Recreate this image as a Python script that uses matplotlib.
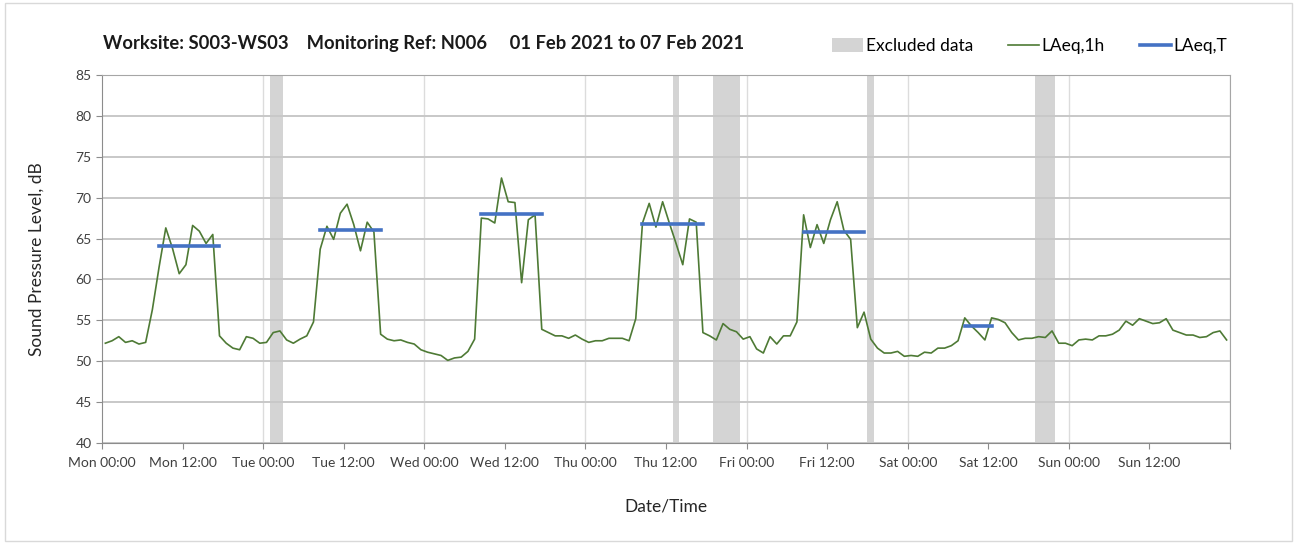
import matplotlib
matplotlib.use("Agg")
import matplotlib.pyplot as plt
from matplotlib.patches import Patch, Rectangle
from matplotlib.lines import Line2D
import numpy as np

plt.rcParams['font.family'] = ['Lato', 'DejaVu Sans']

# hourly LAeq,1h values, Mon 00:00 .. Sun 23:00 (plotted at mid-hour)
laeq_1h = [
    52.2, 52.5, 53.0, 52.3, 52.5, 52.1, 52.3, 56.3, 61.5, 66.3, 63.8, 60.7,
    61.8, 66.6, 65.9, 64.4, 65.5, 53.1, 52.2, 51.6, 51.4, 53.0, 52.8, 52.2,
    52.3, 53.5, 53.7, 52.6, 52.2, 52.7, 53.1, 54.8, 63.7, 66.5, 64.9, 68.1,
    69.2, 66.7, 63.5, 67.0, 65.8, 53.3, 52.7, 52.5, 52.6, 52.3, 52.1, 51.4,
    51.1, 50.9, 50.7, 50.1, 50.4, 50.5, 51.2, 52.7, 67.5, 67.4, 66.9, 72.4,
    69.5, 69.4, 59.6, 67.3, 67.9, 53.9, 53.5, 53.1, 53.1, 52.8, 53.2, 52.7,
    52.3, 52.5, 52.5, 52.8, 52.8, 52.8, 52.5, 55.2, 66.9, 69.3, 66.4, 69.5,
    66.9, 64.4, 61.8, 67.4, 67.0, 53.5, 53.1, 52.6, 54.6, 53.9, 53.6, 52.7,
    53.0, 51.5, 51.0, 53.0, 52.1, 53.1, 53.1, 54.8, 67.9, 63.9, 66.7, 64.4,
    67.3, 69.5, 66.0, 64.9, 54.1, 56.0, 52.7, 51.6, 51.0, 51.0, 51.2, 50.6,
    50.7, 50.6, 51.1, 51.0, 51.6, 51.6, 51.9, 52.5, 55.3, 54.3, 53.5, 52.6,
    55.3, 55.1, 54.7, 53.5, 52.6, 52.8, 52.8, 53.0, 52.9, 53.7, 52.2, 52.2,
    51.9, 52.6, 52.7, 52.6, 53.1, 53.1, 53.3, 53.8, 54.9, 54.4, 55.2, 54.9,
    54.6, 54.7, 55.2, 53.8, 53.5, 53.2, 53.2, 52.9, 53.0, 53.5, 53.7, 52.6,
]
hours = np.arange(len(laeq_1h)) + 0.5

# LAeq,T periods (start hour, end hour, level)
laeq_t_start = [8.5, 32.5, 56.5, 80.5, 104.5, 128.5]
laeq_t_end = [17.5, 41.5, 65.5, 89.5, 113.5, 132.5]
laeq_t_val = [64.1, 66.0, 68.0, 66.8, 65.8, 54.3]

# excluded data periods (hours from Mon 00:00)
excl_start = [25, 85, 91, 114, 139]
excl_end = [27, 86, 95, 115, 142]

days = ['Mon', 'Tue', 'Wed', 'Thu', 'Fri', 'Sat', 'Sun']
tick_labels = [f'{d} {h}' for d in days for h in ('00:00', '12:00')]

fig = plt.figure(figsize=(13.01, 5.43), dpi=100)
ax = fig.add_axes([0.0784, 0.1842, 0.867, 0.6777])

for s, e in zip(excl_start, excl_end):
    ax.axvspan(s, e, color='#d4d4d4', lw=0, zorder=0.3)

ax.plot(hours, laeq_1h, color='#4e7a35', lw=1.2, zorder=3)
for s, e, v in zip(laeq_t_start, laeq_t_end, laeq_t_val):
    ax.plot([s, e], [v, v], color='#4472c4', lw=2.6, zorder=4)

ax.set_xlim(0, 168)
ax.set_ylim(40, 85)
ax.set_yticks(np.arange(40, 86, 5))
ax.set_xticks(np.arange(0, 169, 12))
ax.set_xticklabels(tick_labels + [''])
ax.set_axisbelow(True)
ax.yaxis.grid(True, color='#c8c8c8', lw=1.4)
for d in range(1, 8):
    ax.axvline(d * 24, color='#dcdcdc', lw=1.0, zorder=0.5)

for sp in ax.spines.values():
    sp.set_color('#a6a6a6')
ax.spines['left'].set_color('#8c8c8c')
ax.spines['bottom'].set_color('#8c8c8c')
ax.tick_params(axis='both', colors='#8c8c8c', labelcolor='#404040',
               labelsize=10, length=4)
ax.tick_params(axis='x', pad=6)

ax.set_ylabel('Sound Pressure Level, dB', fontsize=12.5, color='#262626', labelpad=22)
ax.set_xlabel('Date/Time', fontsize=12.5, color='#262626', labelpad=21)

fig.text(103 / 1301, 1 - 43 / 543,
         'Worksite: S003-WS03    Monitoring Ref: N006     01 Feb 2021 to 07 Feb 2021',
         fontsize=13.2, fontweight='bold', va='center', ha='left', color='#1a1a1a')

handles = [Patch(facecolor='#d4d4d4', edgecolor='none'),
           Line2D([], [], color='#4e7a35', lw=1.2),
           Line2D([], [], color='#4472c4', lw=2.6)]
fig.legend(handles, ['Excluded data', 'LAeq,1h', 'LAeq,T'], ncol=3,
           loc='center right', bbox_to_anchor=(1243 / 1301, 1 - 46 / 543),
           frameon=False, fontsize=12.5, handlelength=1.8, handletextpad=0.15,
           columnspacing=2.0, handleheight=0.9)

fig.patches.append(Rectangle((5 / 1301, 2 / 543), 1287 / 1301, 538 / 543,
                             transform=fig.transFigure, fill=False,
                             edgecolor='#d9d9d9', lw=1))

fig.savefig('out.png', dpi=100)
